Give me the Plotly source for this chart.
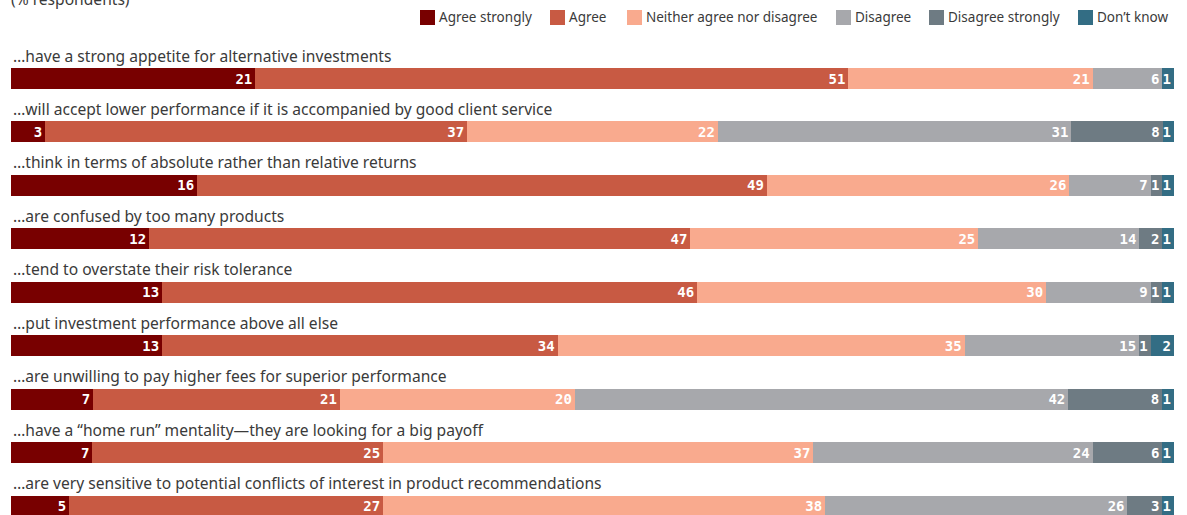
import plotly.graph_objects as go

statements = [
    "…have a strong appetite for alternative investments",
    "…will accept lower performance if it is accompanied by good client service",
    "…think in terms of absolute rather than relative returns",
    "…are confused by too many products",
    "…tend to overstate their risk tolerance",
    "…put investment performance above all else",
    "…are unwilling to pay higher fees for superior performance",
    "…have a “home run” mentality—they are looking for a big payoff",
    "…are very sensitive to potential conflicts of interest in product recommendations",
]

series_names = ["Agree strongly", "Agree", "Neither agree nor disagree",
                "Disagree", "Disagree strongly", "Don’t know"]

agree_strongly = [21, 3, 16, 12, 13, 13, 7, 7, 5]
agree = [51, 37, 49, 47, 46, 34, 21, 25, 27]
neither = [21, 22, 26, 25, 30, 35, 20, 37, 38]
disagree = [6, 31, 7, 14, 9, 15, 42, 24, 26]
disagree_strongly = [0, 8, 1, 2, 1, 1, 8, 6, 3]
dont_know = [1, 1, 1, 1, 1, 2, 1, 1, 1]

series_values = [agree_strongly, agree, neither, disagree, disagree_strongly, dont_know]
colors = ["#780000", "#c85a43", "#f9aa8e", "#a7a8ac", "#6e7b83", "#336d84"]

rows = list(range(len(statements)))
W, H = 1187, 515
LABEL_FONT = "Noto Sans"
TEXT_COL = "#3a3a3a"

fig = go.Figure()
for name, vals, col in zip(series_names, series_values, colors):
    fig.add_trace(go.Bar(
        y=rows, x=vals, name=name, orientation="h",
        marker=dict(color=col, line=dict(width=0)),
        text=[str(v) if v > 0 else "" for v in vals],
        texttemplate="%{text}",
        textposition="inside", insidetextanchor="end", textangle=0,
        textfont=dict(color="white", size=14, family="DejaVu Sans Mono", weight="bold"),
        width=0.393, hoverinfo="skip", showlegend=False,
    ))

for i, s in enumerate(statements):
    fig.add_annotation(x=0, y=i - 0.43, xref="x", yref="y", text=s,
                       showarrow=False, xanchor="left", yanchor="middle",
                       font=dict(size=15.6, color=TEXT_COL, family=LABEL_FONT))

fig.add_annotation(x=9 / W, y=1 + 1 / H, xref="paper", yref="paper",
                   text="(% respondents)", showarrow=False, xanchor="left",
                   yanchor="middle", font=dict(size=15.6, color=TEXT_COL, family=LABEL_FONT))

# manual legend (square + label), positions in pixels
legend_sq_x = [420, 550, 627, 836, 929, 1078]
for name, col, px in zip(series_names, colors, legend_sq_x):
    fig.add_shape(type="rect", xref="paper", yref="paper",
                  x0=px / W, x1=(px + 15) / W, y0=1 - 25 / H, y1=1 - 10 / H,
                  fillcolor=col, line=dict(width=0))
    fig.add_annotation(x=(px + 17) / W, y=1 - 17.5 / H, xref="paper", yref="paper",
                       text=name, showarrow=False, xanchor="left", yanchor="middle",
                       font=dict(size=13.5, color=TEXT_COL, family=LABEL_FONT))

fig.update_layout(
    width=W, height=H,
    margin=dict(l=0, r=0, t=0, b=0),
    paper_bgcolor="white", plot_bgcolor="white",
    barmode="stack", barnorm="percent",
    uniformtext=dict(minsize=14, mode="show"),
    xaxis=dict(domain=[11 / W, 1174 / W], range=[0, 100], visible=False, fixedrange=True),
    yaxis=dict(range=[8.168, -1.469], visible=False, fixedrange=True),
    showlegend=False,
)

fig.write_html("out.html")
